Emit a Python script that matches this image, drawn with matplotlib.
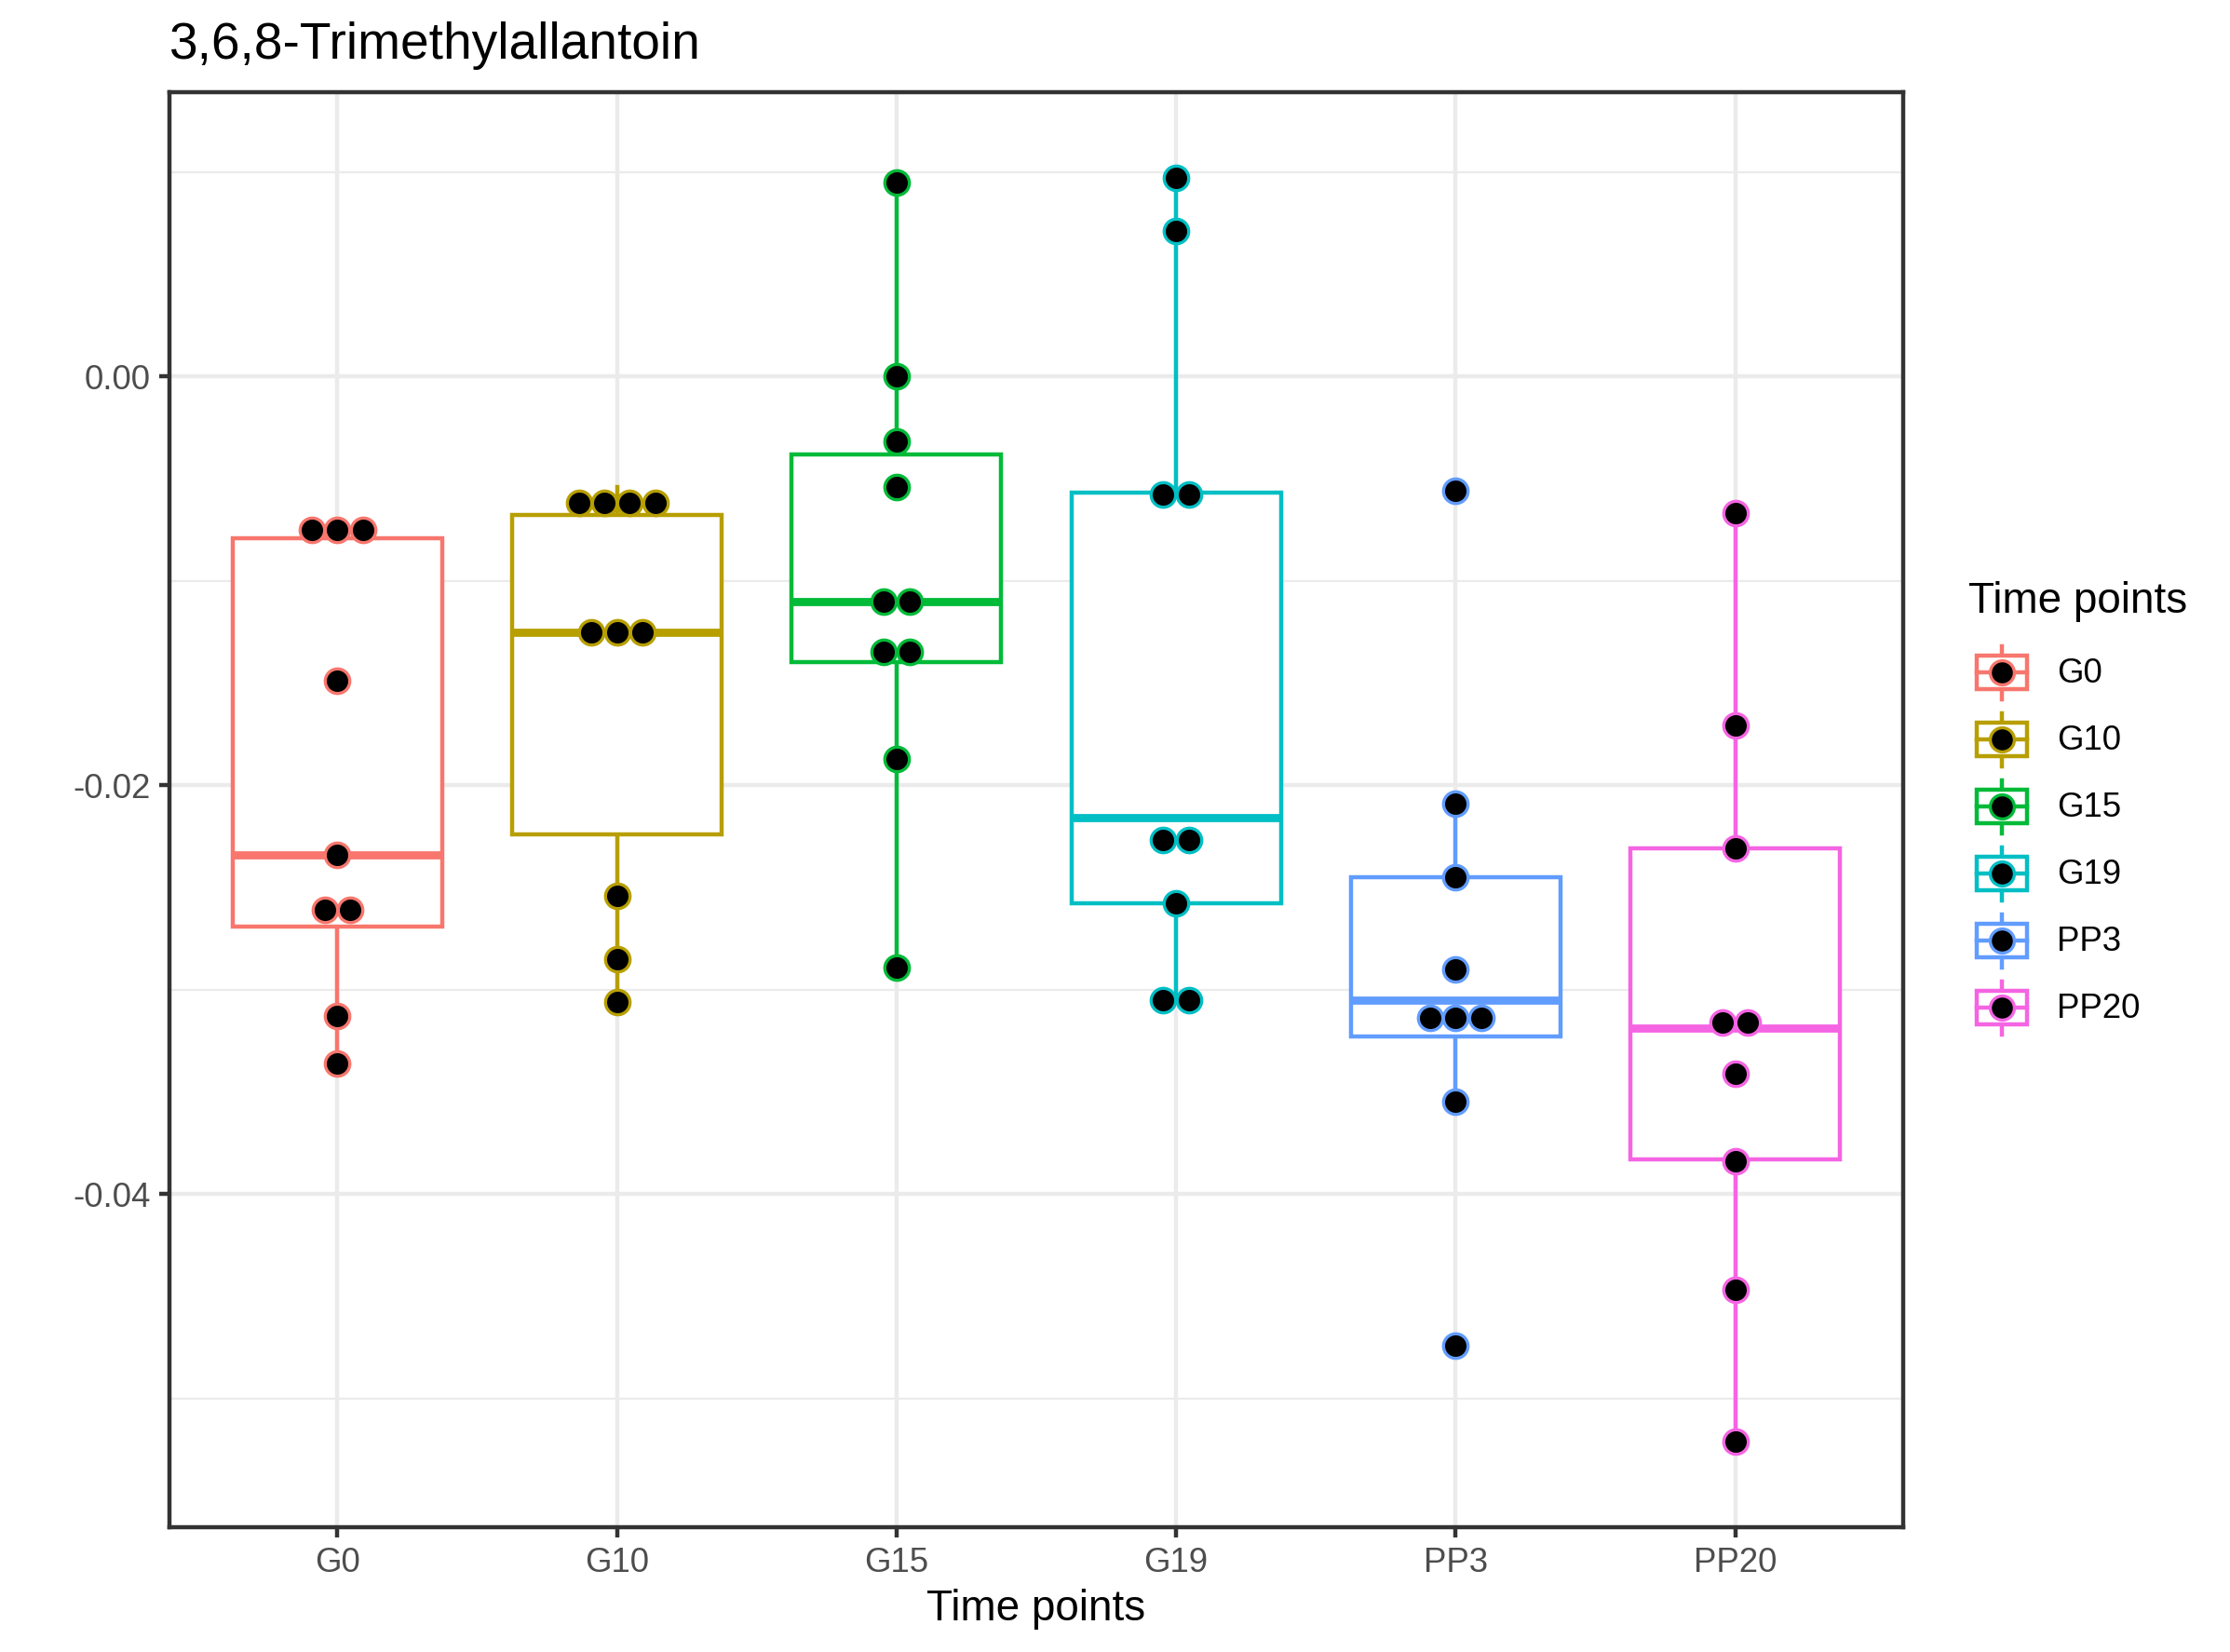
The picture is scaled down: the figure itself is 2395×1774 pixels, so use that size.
#!/usr/bin/env python3
"""Boxplot + dotplot of 3,6,8-Trimethylallantoin across time points."""

import matplotlib

matplotlib.use("Agg")
import matplotlib.pyplot as plt
from matplotlib.legend_handler import HandlerBase
from matplotlib.lines import Line2D
from matplotlib.patches import Rectangle
from matplotlib.ticker import FixedLocator

plt.rcParams["font.family"] = ["Liberation Sans", "DejaVu Sans"]

# ---- data ----
groups = ["G0", "G10", "G15", "G19", "PP3", "PP20"]
colors = ["#F8766D", "#B79F00", "#00BA38", "#00BFC4", "#619CFF", "#F564E3"]

g0 = [-0.0075, -0.0075, -0.0075, -0.0149, -0.0234, -0.0261, -0.0261, -0.0313, -0.0336]
g10 = [-0.0062, -0.0062, -0.0062, -0.0062, -0.0125, -0.0125, -0.0125, -0.0254, -0.0285, -0.0306]
g15 = [0.0095, 0.0000, -0.0032, -0.0054, -0.0110, -0.0110, -0.0135, -0.0135, -0.0187, -0.0289]
g19 = [0.0097, 0.0071, -0.0058, -0.0058, -0.0227, -0.0227, -0.0258, -0.0305, -0.0305]
pp3 = [-0.0056, -0.0209, -0.0245, -0.0290, -0.0314, -0.0314, -0.0314, -0.0355, -0.0474]
pp20 = [-0.0067, -0.0171, -0.0231, -0.0316, -0.0316, -0.0341, -0.0384, -0.0447, -0.0521]
points = [g0, g10, g15, g19, pp3, pp20]

# box statistics (lower whisker, Q1, median, Q3, upper whisker)
whislo = [-0.0336, -0.0306, -0.0289, -0.0305, -0.0355, -0.0521]
q1 = [-0.0269, -0.0224, -0.0140, -0.0258, -0.0323, -0.0383]
med = [-0.0234, -0.0125, -0.0110, -0.0216, -0.0305, -0.0319]
q3 = [-0.0079, -0.0068, -0.0038, -0.0057, -0.0245, -0.0231]
whishi = [-0.0075, -0.0054, 0.0095, 0.0097, -0.0209, -0.0067]

y_major = [-0.04, -0.02, 0.00]
y_minor = [-0.05, -0.03, -0.01, 0.01]
y_labels = ["-0.04", "-0.02", "0.00"]

W, H, DPI = 2395, 1774, 300
PANEL = (182, 99, 2044, 1640)  # left, top, right, bottom in px
DOT_STEP = 0.091  # horizontal spacing of stacked dots (category units)
LW = 1.07


class BoxKey(HandlerBase):
    def create_artists(self, legend, orig_handle, xdescent, ydescent,
                       width, height, fontsize, trans):
        c = orig_handle.get_color()
        x0, y0 = -xdescent, -ydescent
        xc, yc = x0 + width / 2, y0 + height / 2
        arts = [
            Line2D([xc, xc], [y0 + 0.1 * height, y0 + 0.25 * height], color=c, lw=LW),
            Line2D([xc, xc], [y0 + 0.75 * height, y0 + 0.9 * height], color=c, lw=LW),
            Rectangle((x0 + 0.125 * width, y0 + 0.25 * height), 0.75 * width, 0.5 * height,
                      facecolor="white", edgecolor=c, lw=LW),
            Line2D([x0 + 0.125 * width, x0 + 0.875 * width], [yc, yc], color=c, lw=LW),
            Line2D([xc], [yc], marker="o", ms=6.2, mfc="black", mec=c, mew=0.8, ls="none"),
        ]
        for a in arts:
            a.set_transform(trans)
        return arts


def main():
    fig = plt.figure(figsize=(W / DPI, H / DPI), dpi=DPI)
    l, t, r, b = PANEL
    ax = fig.add_axes([l / W, 1 - b / H, (r - l) / W, (b - t) / H])

    xs = list(range(1, len(groups) + 1))
    stats = [
        dict(whislo=whislo[i], q1=q1[i], med=med[i], q3=q3[i], whishi=whishi[i], fliers=[])
        for i in range(len(groups))
    ]
    bp = ax.bxp(stats, positions=xs, widths=0.75, showcaps=False, patch_artist=True,
                manage_ticks=False)
    for i, c in enumerate(colors):
        bp["boxes"][i].set(facecolor="white", edgecolor=c, lw=LW, zorder=2)
        bp["medians"][i].set(color=c, lw=2.1, zorder=3, solid_capstyle="butt")
        for w in bp["whiskers"][2 * i:2 * i + 2]:
            w.set(color=c, lw=LW, zorder=1.9)

    # dotplot: identical values stacked side by side, centred
    for i, (vals, c) in enumerate(zip(points, colors)):
        uniq = sorted(set(vals), reverse=True)
        for v in uniq:
            n = vals.count(v)
            px = [xs[i] + (k - (n - 1) / 2) * DOT_STEP for k in range(n)]
            ax.scatter(px, [v] * n, s=40, facecolor="black", edgecolor=c,
                       linewidth=0.8, zorder=4)

    ax.set_xlim(0.4, 6.6)
    ax.set_ylim(-0.0563, 0.0139)
    ax.set_xticks(xs)
    ax.set_xticklabels(groups)
    ax.yaxis.set_major_locator(FixedLocator(y_major))
    ax.set_yticklabels(y_labels)
    ax.yaxis.set_minor_locator(FixedLocator(y_minor))
    ax.tick_params(which="major", length=2.75, width=LW, color="#333333",
                   labelsize=8.8, labelcolor="#4D4D4D", pad=2.2)
    ax.tick_params(which="minor", length=0)
    ax.set_axisbelow(True)
    ax.grid(which="major", color="#EBEBEB", lw=LW)
    ax.grid(which="minor", axis="y", color="#EBEBEB", lw=LW / 2)
    for s in ax.spines.values():
        s.set_color("#333333")
        s.set_linewidth(LW)

    fig.text(l / W, 1 - 63 / H, "3,6,8-Trimethylallantoin", fontsize=13.2,
             va="baseline", ha="left")
    fig.text((l + r) / 2 / W, 1 - 1740 / H, "Time points", fontsize=11,
             va="baseline", ha="center")

    # legend keys 17.28 pt square (matplotlib trims 0.35*fs*(h-0.7) of height)
    handles = [Line2D([], [], color=c) for c in colors]
    leg = ax.legend(handles, groups, title="Time points", loc="center left",
                    bbox_to_anchor=(2114 / W, 0.509), bbox_transform=fig.transFigure,
                    frameon=False, borderpad=0, borderaxespad=0, fontsize=8.8,
                    title_fontsize=11, handlelength=1.96, handleheight=2.644,
                    handletextpad=0.63, labelspacing=0, alignment="left",
                    handler_map={Line2D: BoxKey()})
    leg._legend_box.sep = 4.5
    leg.get_title().set_color("black")

    fig.savefig("out.png", dpi=DPI)
    plt.close(fig)


if __name__ == "__main__":
    main()
